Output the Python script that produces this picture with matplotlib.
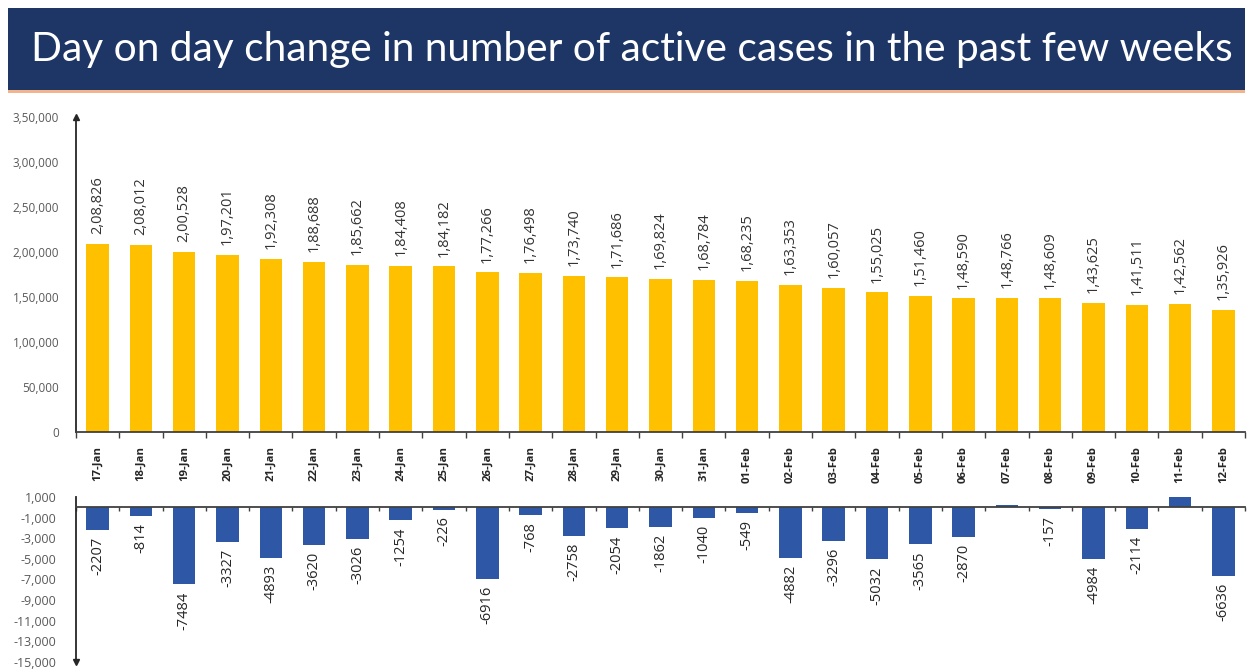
import matplotlib
matplotlib.use("Agg")
import matplotlib.pyplot as plt
from matplotlib.patches import Rectangle
from matplotlib.ticker import FixedLocator, FuncFormatter

dates = ["17-Jan", "18-Jan", "19-Jan", "20-Jan", "21-Jan", "22-Jan", "23-Jan", "24-Jan",
         "25-Jan", "26-Jan", "27-Jan", "28-Jan", "29-Jan", "30-Jan", "31-Jan", "01-Feb",
         "02-Feb", "03-Feb", "04-Feb", "05-Feb", "06-Feb", "07-Feb", "08-Feb", "09-Feb",
         "10-Feb", "11-Feb", "12-Feb"]
active_cases = [208826, 208012, 200528, 197201, 192308, 188688, 185662, 184408, 184182,
                177266, 176498, 173740, 171686, 169824, 168784, 168235, 163353, 160057,
                155025, 151460, 148590, 148766, 148609, 143625, 141511, 142562, 135926]
daily_change = [-2207, -814, -7484, -3327, -4893, -3620, -3026, -1254, -226, -6916, -768,
                -2758, -2054, -1862, -1040, -549, -4882, -3296, -5032, -3565, -2870, 176,
                -157, -4984, -2114, 1051, -6636]
top_ticks = [0, 50000, 100000, 150000, 200000, 250000, 300000, 350000]
bottom_ticks = [1000, -1000, -3000, -5000, -7000, -9000, -11000, -13000, -15000]


def indian(n):
    n = int(round(n))
    sign = "-" if n < 0 else ""
    s = str(abs(n))
    if len(s) <= 3:
        return sign + s
    head, tail = s[:-3], s[-3:]
    parts = []
    while len(head) > 2:
        parts.insert(0, head[-2:])
        head = head[:-2]
    if head:
        parts.insert(0, head)
    return sign + ",".join(parts) + "," + tail


def western(n):
    return f"{int(n):,}"


plt.rcParams["font.family"] = ["Open Sans", "DejaVu Sans"]

W, H = 1253, 672
fig = plt.figure(figsize=(W / 100, H / 100), dpi=100)
fig.patch.set_facecolor("white")

# Banner
fig.patches.append(Rectangle((8 / W, 1 - 90 / H), 1237 / W, 82 / H, transform=fig.transFigure,
                             facecolor="#1D3665", edgecolor="none", zorder=0))
fig.patches.append(Rectangle((8 / W, 1 - 93 / H), 1237 / W, 3 / H, transform=fig.transFigure,
                             facecolor="#F2B48C", edgecolor="none", zorder=0))
title = fig.text(632 / W, 1 - 49 / H,
                 "Day on day change in number of active cases in the past few weeks",
                 color="white", fontsize=30, family=["Lato", "DejaVu Sans"],
                 ha="center", va="center")
fig.canvas.draw()
tw = title.get_window_extent().width
title.set_fontsize(30 * 1200 / tw)

x = list(range(len(dates)))
left = 76 / W
width = 1169 / W

# Top axes
ax1 = fig.add_axes([left, 1 - 432 / H, width, 315 / H])
ax1.bar(x, active_cases, width=0.52, color="#FFC000", zorder=2)
ax1.set_xlim(-0.5, len(dates) - 0.5)
ax1.set_ylim(0, 350000)
ax1.yaxis.set_major_locator(FixedLocator(top_ticks))
ax1.yaxis.set_major_formatter(FuncFormatter(lambda v, p: indian(v)))
ax1.tick_params(axis="y", length=0, labelsize=8.5, labelcolor="#595959", pad=12)
ax1.set_xticks(x)
ax1.set_xticklabels(dates, rotation=90, fontsize=8.2, fontweight="bold", color="#262626")
ax1.tick_params(axis="x", which="major", length=0, pad=10)
ax1.set_xticks([i - 0.5 for i in range(len(dates) + 1)], minor=True)
ax1.tick_params(axis="x", which="minor", length=4, width=1, color="#404040", direction="out")
for s in ["top", "right"]:
    ax1.spines[s].set_visible(False)
ax1.spines["left"].set_color("#262626")
ax1.spines["bottom"].set_color("#404040")
ax1.spines["left"].set_linewidth(1.3)
ax1.spines["bottom"].set_linewidth(1.3)
ax1.plot(0, 1, marker="^", color="#262626", ms=4, transform=ax1.transAxes, clip_on=False)
for xi, v in zip(x, active_cases):
    ax1.annotate(indian(v), (xi, v), xytext=(0, 7), textcoords="offset points",
                 rotation=90, ha="center", va="bottom", fontsize=10.5, color="#333333")

# Bottom axes
ax2 = fig.add_axes([left, 1 - 662 / H, width, 165 / H])
ax2.bar(x, daily_change, width=0.52, color="#2E57A6", zorder=2)
ax2.set_xlim(-0.5, len(dates) - 0.5)
ax2.set_ylim(-15000, 1000)
ax2.yaxis.set_major_locator(FixedLocator(bottom_ticks))
ax2.yaxis.set_major_formatter(FuncFormatter(lambda v, p: western(v)))
ax2.tick_params(axis="y", length=0, labelsize=9, labelcolor="#595959", pad=14)
ax2.set_xticks([])
ax2.set_xticks([i - 0.5 for i in range(len(dates) + 1)], minor=True)
ax2.tick_params(axis="x", which="minor", length=3, width=1, color="#404040", direction="out",
                labelbottom=False)
for s in ["top", "right"]:
    ax2.spines[s].set_visible(False)
ax2.spines["bottom"].set_position(("data", 0))
ax2.spines["bottom"].set_color("#404040")
ax2.spines["bottom"].set_linewidth(1.3)
ax2.spines["left"].set_color("#262626")
ax2.spines["left"].set_linewidth(1.3)
ax2.plot(0, 0, marker="v", color="#262626", ms=4, transform=ax2.transAxes, clip_on=False)
for xi, v in zip(x, daily_change):
    if v < 0:
        ax2.annotate(str(v), (xi, v), xytext=(0, -5), textcoords="offset points",
                     rotation=90, ha="center", va="top", fontsize=10.5, color="#262626")

fig.savefig("out.png", dpi=100)
